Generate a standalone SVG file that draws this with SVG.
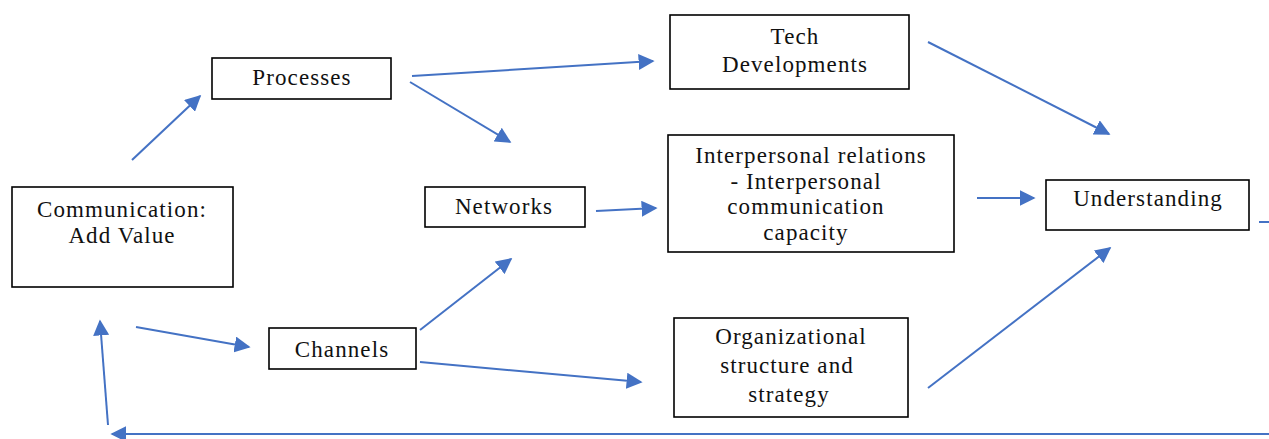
<svg xmlns="http://www.w3.org/2000/svg" width="1269" height="439" viewBox="0 0 1269 439">
<style>
.box{fill:#fff;stroke:#000;stroke-width:1.6}
.t{font-family:"Liberation Serif","Times New Roman",serif;font-size:23px;letter-spacing:1.1px;fill:#111;text-anchor:middle}
.c{stroke:#4472c4;stroke-width:2;fill:none}
</style>
<defs>
<marker id="ahb" viewBox="0 0 10 10" refX="9" refY="5" markerWidth="8" markerHeight="8" orient="auto">
<path d="M0,0 L10,5 L0,10 z" fill="#4472c4"/>
</marker>
</defs>
<rect width="1269" height="439" fill="#fff"/>
<g id="connectors">
<line class="c" x1="132" y1="160" x2="200" y2="96" marker-end="url(#ahb)"/>
<line class="c" x1="412" y1="76" x2="653" y2="61" marker-end="url(#ahb)"/>
<line class="c" x1="410" y1="82" x2="510" y2="142" marker-end="url(#ahb)"/>
<line class="c" x1="596" y1="211" x2="656" y2="208" marker-end="url(#ahb)"/>
<line class="c" x1="928" y1="42" x2="1109" y2="134" marker-end="url(#ahb)"/>
<line class="c" x1="977" y1="198" x2="1034" y2="198" marker-end="url(#ahb)"/>
<line class="c" x1="928" y1="388" x2="1110" y2="248" marker-end="url(#ahb)"/>
<line class="c" x1="420" y1="330" x2="511" y2="259" marker-end="url(#ahb)"/>
<line class="c" x1="420" y1="362" x2="641" y2="382" marker-end="url(#ahb)"/>
<line class="c" x1="136" y1="327" x2="249" y2="347" marker-end="url(#ahb)"/>
<line class="c" x1="1269" y1="434" x2="112" y2="434" marker-end="url(#ahb)"/>
<line class="c" x1="108" y1="425" x2="100" y2="321" marker-end="url(#ahb)"/>
<line class="c" x1="1259" y1="222" x2="1269" y2="222"/>
</g>
<g id="comm">
<rect class="box" x="12" y="187" width="221" height="100"/>
<text class="t" x="122" y="217">Communication:</text>
<text class="t" x="122" y="243">Add Value</text>
</g>
<g id="processes">
<rect class="box" x="212" y="58" width="179" height="41"/>
<text class="t" x="302" y="85">Processes</text>
</g>
<g id="tech">
<rect class="box" x="670" y="15" width="239" height="74"/>
<text class="t" x="795" y="44">Tech</text>
<text class="t" x="795" y="72">Developments</text>
</g>
<g id="networks">
<rect class="box" x="425" y="187" width="160" height="40"/>
<text class="t" x="504" y="214">Networks</text>
</g>
<g id="interpersonal">
<rect class="box" x="668" y="135" width="286" height="117"/>
<text class="t" x="811" y="163">Interpersonal relations</text>
<text class="t" x="806" y="189">- Interpersonal</text>
<text class="t" x="806" y="214">communication</text>
<text class="t" x="806" y="240">capacity</text>
</g>
<g id="understanding">
<rect class="box" x="1046" y="180" width="203" height="50"/>
<text class="t" x="1148" y="206">Understanding</text>
</g>
<g id="channels">
<rect class="box" x="269" y="328" width="147" height="41"/>
<text class="t" x="342" y="357">Channels</text>
</g>
<g id="org">
<rect class="box" x="674" y="318" width="234" height="99"/>
<text class="t" x="791" y="344">Organizational</text>
<text class="t" x="787" y="373">structure and</text>
<text class="t" x="789" y="402">strategy</text>
</g>
</svg>
